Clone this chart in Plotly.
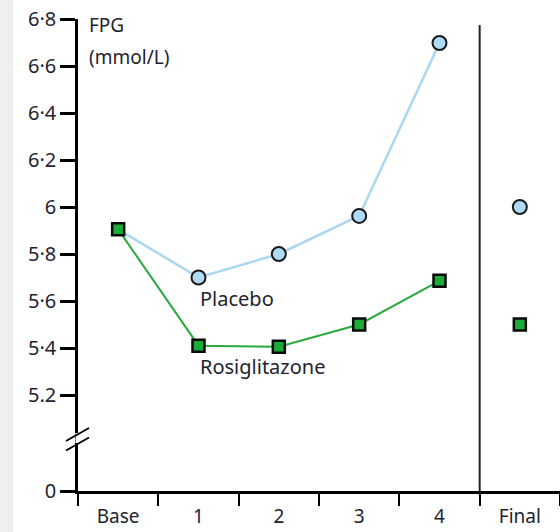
import plotly.graph_objects as go

# Visits and mean fasting plasma glucose (mmol/L)
visits = ["Base", "1", "2", "3", "4", "Final"]
placebo = [5.905, 5.70, 5.80, 5.962, 6.698, 6.00]
rosiglitazone = [5.905, 5.41, 5.405, 5.50, 5.686, 5.50]

# Y tick values shown on the axis (0 sits below the axis break)
tick_values = [6.8, 6.6, 6.4, 6.2, 6.0, 5.8, 5.6, 5.4, 5.2]
tick_labels = ["6·8", "6·6", "6·4", "6·2", "6", "5·8", "5·6", "5·4", "5.2"]
zero_label = "0"

# Broken axis: position where "0" is drawn on the continuous scale
ZERO_POS = 4.7915
Y_TOP = 6.8

font_family = "Noto Sans, Open Sans, sans-serif"
text_color = "#23232f"

fig = go.Figure()

# Trend lines over the four visits (Final drawn separately, unconnected)
fig.add_trace(go.Scatter(
    x=visits[:5], y=placebo[:5], mode="lines",
    line=dict(color="#a9d6f2", width=2.5), hoverinfo="skip", showlegend=False))
fig.add_trace(go.Scatter(
    x=visits[:5], y=rosiglitazone[:5], mode="lines",
    line=dict(color="#2aaa3c", width=2), hoverinfo="skip", showlegend=False))

fig.add_trace(go.Scatter(
    x=visits[1:], y=placebo[1:], mode="markers", name="Placebo",
    marker=dict(symbol="circle", size=14, color="#aedaf6",
                line=dict(color="#1a1a1a", width=2)),
    showlegend=False))
fig.add_trace(go.Scatter(
    x=visits, y=rosiglitazone, mode="markers", name="Rosiglitazone",
    marker=dict(symbol="square", size=12, color="#1aac36",
                line=dict(color="#0a0a0a", width=2.5)),
    showlegend=False))

shapes = []
# light grey strip on the far left of the page
shapes.append(dict(type="rect", xref="paper", yref="paper",
                   x0=-78 / 482, x1=-65 / 482, y0=-0.2, y1=1.1,
                   fillcolor="#efefef", line=dict(width=0), layer="below"))
# separator before the Final visit
shapes.append(dict(type="line", xref="x", yref="y",
                   x0=4.5, x1=4.5, y0=ZERO_POS, y1=6.775,
                   line=dict(color="#222222", width=2)))
# gap in the y axis line and the break marks
px_per_unit = 235.0
def yv(px_from_zero):
    return ZERO_POS + px_from_zero / px_per_unit

shapes.append(dict(type="line", xref="paper", yref="y",
                   x0=0, x1=0, y0=yv(491 - 443), y1=yv(491 - 433),
                   line=dict(color="white", width=5)))
for lo, hi in [(441, 428), (450.5, 437.5)]:
    shapes.append(dict(type="line", xref="paper", yref="y",
                       x0=-12 / 482, x1=11 / 482,
                       y0=yv(491 - lo), y1=yv(491 - hi),
                       line=dict(color="black", width=2)))

label_font = dict(size=20, color=text_color, family=font_family)
unit_font = dict(size=19, color=text_color, family=font_family)
annotations = [
    dict(x=visits[1], y=5.61, xref="x", yref="y", text="Placebo",
         showarrow=False, xanchor="left", xshift=-1, font=label_font),
    dict(x=visits[1], y=5.32, xref="x", yref="y", text="Rosiglitazone",
         showarrow=False, xanchor="left", xshift=-1, font=label_font),
    dict(x=9 / 482, y=6.775, xref="paper", yref="y", text="FPG",
         showarrow=False, xanchor="left", yanchor="middle", font=unit_font),
    dict(x=9 / 482, y=6.64, xref="paper", yref="y", text="(mmol/L)",
         showarrow=False, xanchor="left", yanchor="middle", font=unit_font),
]

fig.update_layout(
    width=560, height=532,
    margin=dict(l=78, r=0, t=19, b=41),
    paper_bgcolor="white", plot_bgcolor="white",
    font=dict(family=font_family, color=text_color, size=19),
    shapes=shapes, annotations=annotations,
    xaxis=dict(
        type="category", categoryorder="array", categoryarray=visits,
        range=[-0.5, 5.5], tickson="boundaries", ticks="outside",
        ticklen=12, tickwidth=2, tickcolor="black",
        showline=True, linecolor="black", linewidth=2.5,
        showgrid=False, zeroline=False, fixedrange=True,
        ticklabelstandoff=6,
        tickfont=dict(size=19, color=text_color, family=font_family),
    ),
    yaxis=dict(
        range=[ZERO_POS, Y_TOP],
        tickvals=[ZERO_POS] + tick_values,
        ticktext=[zero_label] + tick_labels,
        ticks="outside", ticklen=15, tickwidth=2.5, tickcolor="black",
        showline=True, linecolor="black", linewidth=2.5,
        showgrid=False, zeroline=False, fixedrange=True,
        tickfont=dict(size=20, color=text_color, family=font_family),
    ),
)

fig.write_html("out.html")
